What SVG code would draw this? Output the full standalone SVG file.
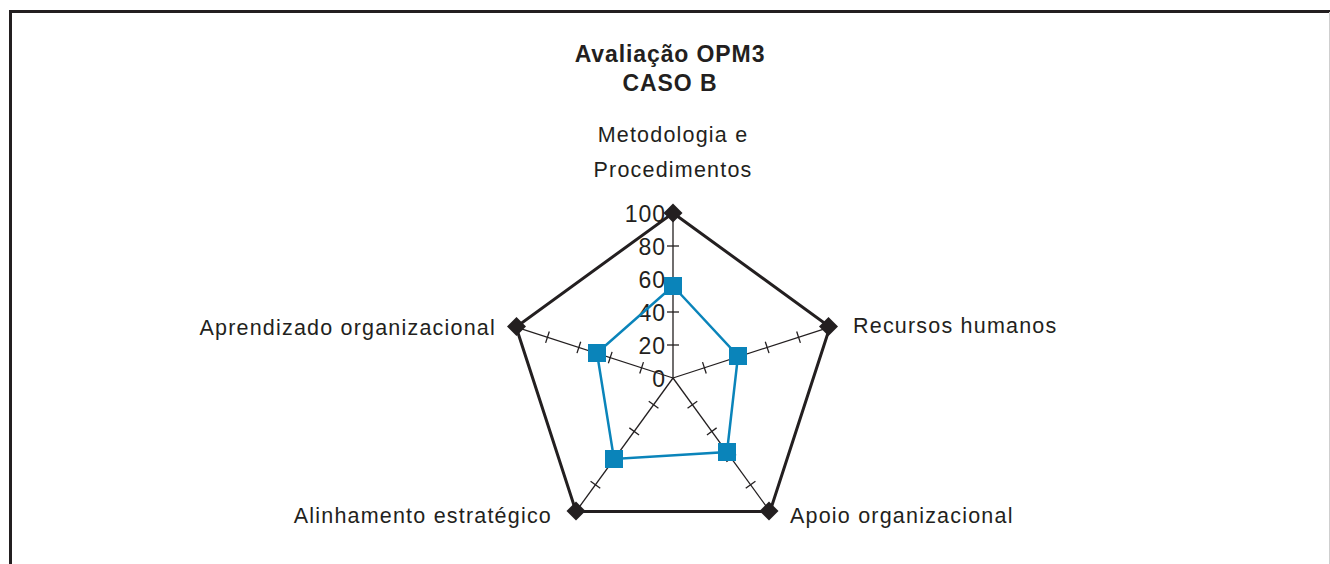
<svg xmlns="http://www.w3.org/2000/svg" xmlns:xlink="http://www.w3.org/1999/xlink" width="1330" height="564" viewBox="0 0 1330 564">
<style>
.t{font-family:"Liberation Sans",Arial,sans-serif;font-size:21.5px;letter-spacing:1.2px;fill:#231f20}
.ti{font-family:"Liberation Sans",Arial,sans-serif;font-size:23px;font-weight:bold;letter-spacing:0.9px;fill:#231f20}
.n{font-family:"Liberation Sans",Arial,sans-serif;font-size:23px;letter-spacing:1px;fill:#231f20}
.ax{stroke:#231f20;stroke-width:1.3;fill:none}
.pent{stroke:#231f20;stroke-width:3;fill:none;stroke-linejoin:miter}
.blue{stroke:#0a84ba;stroke-width:2.5;fill:none}
.sq{fill:#0a84ba}
.dia{fill:#231f20}
</style>
<defs>
<g id="spoke">
<line x1="673" y1="378" x2="673" y2="213"/>
<line x1="667" y1="345" x2="679" y2="345"/>
<line x1="667" y1="312" x2="679" y2="312"/>
<line x1="667" y1="279" x2="679" y2="279"/>
<line x1="667" y1="246" x2="679" y2="246"/>
</g>
<rect id="sqm" x="-9" y="-9" width="18" height="18"/>
<polygon id="dm" points="0,-9.5 9.5,0 0,9.5 -9.5,0"/>
</defs>
<rect width="1330" height="564" fill="#fff"/>
<path d="M10.5,564 V11.5 H1330" fill="none" stroke="#231f20" stroke-width="3"/>
<line x1="1329.5" y1="12" x2="1329.5" y2="564" stroke="#cfcfcf" stroke-width="1"/>
<g id="title">
<text class="ti" x="670" y="62" text-anchor="middle">Avaliação OPM3</text>
<text class="ti" x="670" y="91" text-anchor="middle">CASO B</text>
</g>
<g id="axes" class="ax">
<use xlink:href="#spoke"/>
<use xlink:href="#spoke" transform="rotate(72 673 378)"/>
<use xlink:href="#spoke" transform="rotate(144 673 378)"/>
<use xlink:href="#spoke" transform="rotate(216 673 378)"/>
<use xlink:href="#spoke" transform="rotate(288 673 378)"/>
</g>
<g id="scale">
<text class="n" x="666" y="222" text-anchor="end">100</text>
<text class="n" x="666" y="255" text-anchor="end">80</text>
<text class="n" x="666" y="288" text-anchor="end">60</text>
<text class="n" x="666" y="321" text-anchor="end">40</text>
<text class="n" x="666" y="354" text-anchor="end">20</text>
<text class="n" x="666" y="387" text-anchor="end">0</text>
</g>
<g id="connectors">
<polygon class="pent" points="673,213 829.9,327 770,511.5 576,511.5 516.1,327"/>
<polygon class="blue" points="673,286 738,356 727,452 614,459 597,353"/>
</g>
<g id="maxima" class="dia">
<use xlink:href="#dm" x="673" y="213"/>
<use xlink:href="#dm" x="828.5" y="326.5"/>
<use xlink:href="#dm" x="769" y="511"/>
<use xlink:href="#dm" x="576" y="511"/>
<use xlink:href="#dm" x="516.5" y="326.5"/>
</g>
<g id="values" class="sq">
<use xlink:href="#sqm" x="673" y="286"/>
<use xlink:href="#sqm" x="738" y="356"/>
<use xlink:href="#sqm" x="727" y="452"/>
<use xlink:href="#sqm" x="614" y="459"/>
<use xlink:href="#sqm" x="597" y="353"/>
</g>
<g id="node-metodologia">
<text class="t" x="673" y="142" text-anchor="middle">Metodologia e</text>
<text class="t" x="673" y="177" text-anchor="middle">Procedimentos</text>
</g>
<g id="node-recursos"><text class="t" x="853" y="333">Recursos humanos</text></g>
<g id="node-aprendizado"><text class="t" x="496" y="335" text-anchor="end">Aprendizado organizacional</text></g>
<g id="node-alinhamento"><text class="t" x="552" y="523" text-anchor="end">Alinhamento estratégico</text></g>
<g id="node-apoio"><text class="t" x="790" y="523">Apoio organizacional</text></g>
</svg>
